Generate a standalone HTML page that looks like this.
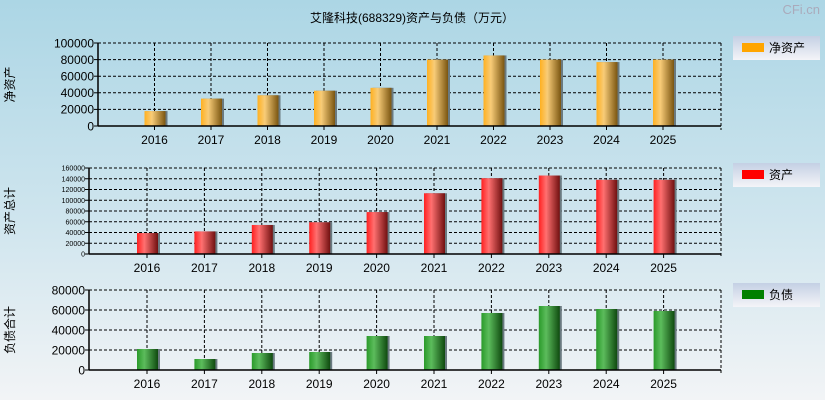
<!DOCTYPE html>
<html><head><meta charset="utf-8">
<style>
body{margin:0;}
#wrap{position:relative;width:825px;height:400px;overflow:hidden;background:linear-gradient(#acd6e5 0%,#cfe5ee 55%,#f2f4f6 100%);font-family:"Liberation Sans","Noto Sans CJK SC",sans-serif;}
svg{position:absolute;left:0;top:0;}
</style></head>
<body>
<div id="wrap">
<svg id="svg" width="825" height="400" xmlns="http://www.w3.org/2000/svg">
<defs>
<linearGradient id="gO" x1="0" x2="1"><stop offset="0" stop-color="#ffb020"/><stop offset="0.35" stop-color="#f8cc78"/><stop offset="1" stop-color="#7a5510"/></linearGradient>
<linearGradient id="gR" x1="0" x2="1"><stop offset="0" stop-color="#ff2020"/><stop offset="0.35" stop-color="#ff7070"/><stop offset="1" stop-color="#701010"/></linearGradient>
<linearGradient id="gG" x1="0" x2="1"><stop offset="0" stop-color="#2a9a2a"/><stop offset="0.35" stop-color="#5cbc5c"/><stop offset="1" stop-color="#0f4a0f"/></linearGradient>
<linearGradient id="gL" x1="0" x2="0" y1="0" y2="1"><stop offset="0" stop-color="#c4d0e4"/><stop offset="1" stop-color="#f4f4f8"/></linearGradient>
</defs>
<text x="412" y="22" text-anchor="middle" font-size="12" fill="#000">艾隆科技(688329)资产与负债（万元）</text>
<text x="820" y="14" text-anchor="end" font-size="13" fill="#aab">CFi.cn</text>
</svg>
</div>
<script>
const years = ["2016","2017","2018","2019","2020","2021","2022","2023","2024","2025"];
const equity = [18000,33000,37000,42500,46000,80000,85000,80000,77000,80000];
const assets = [39000,42000,54000,59000,78000,113000,141000,146000,138000,138000];
const liabilities = [21000,11000,17000,18000,34000,34000,57000,64000,61000,59000];
const ticks1 = [0,20000,40000,60000,80000,100000];
const ticks2 = [0,20000,40000,60000,80000,100000,120000,140000,160000];
const ticks3 = [0,20000,40000,60000,80000];

const NS="http://www.w3.org/2000/svg";
const svg=document.getElementById('svg');
function mk(tag,attrs,parent){const e=document.createElementNS(NS,tag);for(const k in attrs)e.setAttribute(k,attrs[k]);(parent||svg).appendChild(e);return e;}

function panel(cfg){
  const g=mk('g',{});
  
  
  const {x0,x1,yTop,yBot,max,ticks,vals,fill,tickFont,c0,step}=cfg;
  const ys=v=>yBot-(v/max)*(yBot-yTop);
  const xs=i=>c0+i*step;
  // gridlines
  ticks.forEach(t=>{
    if(t===0)return;
    const l=mk('line',{x1:x0,x2:x1,y1:ys(t),y2:ys(t),stroke:'#000','stroke-dasharray':'3,2','stroke-width':1},g);
    
    
  });
  years.forEach((y,i)=>{
    const l=mk('line',{x1:xs(i),x2:xs(i),y1:yTop,y2:yBot,stroke:'#000','stroke-dasharray':'3,2'},g);
    
    
  });
  const rb=mk('line',{x1:x1,x2:x1,y1:yTop,y2:yBot+4,stroke:'#000','stroke-dasharray':'3,2'},g);
  
  
  // bars
  vals.forEach((v,i)=>{
    const sh=mk('rect',{x:xs(i)-10+2,y:ys(v),width:21,height:yBot-ys(v),fill:'#6a7a80'},g);
    
    
    const r=mk('rect',{x:xs(i)-10,y:ys(v),width:21,height:yBot-ys(v),fill:fill},g);
    
    
  });
  // axes
  const ya=mk('line',{x1:x0,x2:x0,y1:yTop,y2:yBot,stroke:'#000','stroke-width':1.5},g);
  
  
  const xa=mk('line',{x1:x0,x2:x1,y1:yBot,y2:yBot,stroke:'#000','stroke-width':1.5},g);
  
  
  ticks.forEach(t=>{
    const tk=mk('line',{x1:x0-4,x2:x0,y1:ys(t),y2:ys(t),stroke:'#000'},g);
    
    
    const tx=mk('text',{x:x0-4,y:ys(t)+tickFont*0.36,'text-anchor':'end','font-size':tickFont,fill:'#000'},g);
    tx.textContent=t;
    
    
  });
  years.forEach((y,i)=>{
    const tk=mk('line',{x1:xs(i),x2:xs(i),y1:yBot,y2:yBot+4,stroke:'#000'},g);
    
    
    const tx=mk('text',{x:xs(i),y:yBot+18,'text-anchor':'middle','font-size':12,fill:'#000'},g);
    tx.textContent=y;
    
    
  });
  // y title
  const cy=(yTop+yBot)/2;
  const yt=mk('text',{x:0,y:0,'text-anchor':'middle','font-size':12,fill:'#000',transform:`translate(${cfg.titleX},${cy}) rotate(-90)`},g);
  yt.textContent=cfg.title;
  
  
  // legend
  const lg=mk('g',{},g);
  
  
  const lb=mk('rect',{x:733,y:cfg.legY,width:87,height:24,fill:'url(#gL)'},lg);
  
  
  const sw=mk('rect',{x:742,y:cfg.legY+7,width:22,height:9,fill:cfg.legColor},lg);
  
  
  const lt=mk('text',{x:769,y:cfg.legY+16,'font-size':12,fill:'#000'},lg);
  lt.textContent=cfg.legText;
  
  
}

panel({name:'equity',x0:98,x1:721,yTop:43,yBot:126,max:100000,ticks:ticks1,vals:equity,fill:'url(#gO)',tickFont:12,c0:154.5,step:56.5,title:'净资产',titleX:14,legY:36,legColor:'#ffa500',legText:'净资产'});
panel({name:'assets',x0:89,x1:721,yTop:168,yBot:254,max:160000,ticks:ticks2,vals:assets,fill:'url(#gR)',tickFont:7,c0:147,step:57.4,title:'资产总计',titleX:14,legY:163,legColor:'#ff0000',legText:'资产'});
panel({name:'liabilities',x0:89,x1:721,yTop:290,yBot:370,max:80000,ticks:ticks3,vals:liabilities,fill:'url(#gG)',tickFont:12,c0:147,step:57.4,title:'负债合计',titleX:14,legY:283,legColor:'#008000',legText:'负债'});
</script>
</body></html>
